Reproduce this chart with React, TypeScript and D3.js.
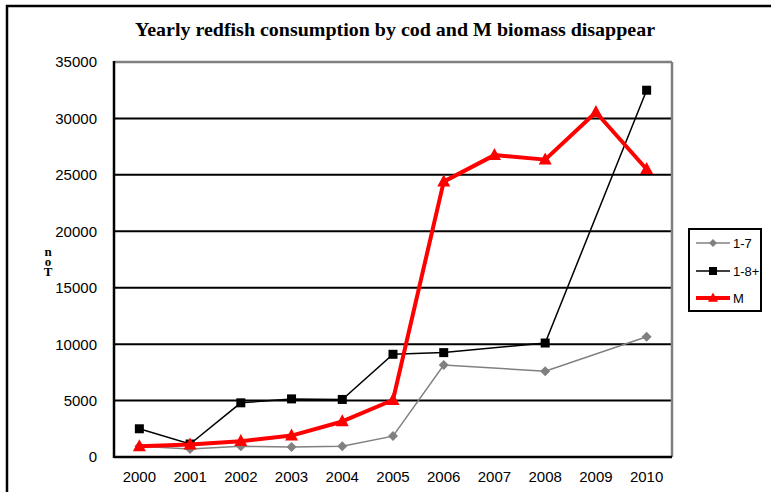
import React from "react";
import * as d3 from "d3";

// Years on the category axis
const years = ["2000", "2001", "2002", "2003", "2004", "2005", "2006", "2007", "2008", "2009", "2010"];

// Consumption series (tons); null = no estimate that year
const age1to7: (number | null)[] = [950, 700, 950, 880, 950, 1850, 8150, null, 7600, null, 10650];
const age1to8plus: (number | null)[] = [2500, 1150, 4800, 5150, 5100, 9100, 9250, null, 10100, null, 32500];
const mBiomass: (number | null)[] = [950, 1100, 1400, 1900, 3150, 5050, 24400, 26750, 26350, 30550, 25500];

const yTicks = [0, 5000, 10000, 15000, 20000, 25000, 30000, 35000];
const legendLabels = ["1-7", "1-8+", "M"];

const W = 771;
const H = 492;
const plot = { left: 114, right: 672, top: 62, bottom: 457 };

export default function App() {
  const x = d3.scaleBand<string>().domain(years).range([plot.left, plot.right]);
  const cx = (y: string) => (x(y) as number) + x.bandwidth() / 2;
  const y = d3.scaleLinear().domain([0, 35000]).range([plot.bottom, plot.top]);

  const lineFor = (vals: (number | null)[]) => {
    const pts = years
      .map((yr, i) => ({ yr, v: vals[i] }))
      .filter((d) => d.v !== null) as { yr: string; v: number }[];
    return {
      pts,
      path: d3
        .line<{ yr: string; v: number }>()
        .x((d) => cx(d.yr))
        .y((d) => y(d.v))(pts) as string,
    };
  };

  const s17 = lineFor(age1to7);
  const s18 = lineFor(age1to8plus);
  const sM = lineFor(mBiomass);

  const diamond = (px: number, py: number, r = 5) =>
    `M${px},${py - r}L${px + r},${py}L${px},${py + r}L${px - r},${py}Z`;
  const tri = (px: number, py: number, r = 6.5) =>
    `M${px},${py - r * 1.1}L${px + r},${py + r * 0.75}L${px - r},${py + r * 0.75}Z`;

  const sans = "'Liberation Sans', Arial, sans-serif";
  const serif = "'Liberation Serif', 'Times New Roman', serif";

  const legendX = 689;
  const legendY = 229;
  const rowY = [243, 271, 298];

  return (
    <svg width={W} height={H} style={{ position: "absolute", left: 0, top: 0, background: "#fff" }}>
      {/* outer chart frame */}
      <rect x={7} y={6} width={W + 20} height={H + 20} fill="none" stroke="#000" strokeWidth={2.5} />

      <text
        x={135}
        y={36}
        textLength={520}
        lengthAdjust="spacingAndGlyphs"
        fontFamily={serif}
        fontWeight="bold"
        fontSize={19}
      >
        Yearly redfish consumption by cod and M biomass disappear
      </text>

      {/* gridlines */}
      {yTicks
        .filter((t) => t > 0 && t < 35000)
        .map((t) => (
          <line key={t} x1={plot.left} x2={plot.right} y1={y(t)} y2={y(t)} stroke="#000" strokeWidth={2} />
        ))}

      {/* plot area border: gray top/right, black axes */}
      <line x1={plot.left} x2={plot.right} y1={plot.top} y2={plot.top} stroke="#808080" strokeWidth={2.5} />
      <line x1={plot.right} x2={plot.right} y1={plot.top} y2={plot.bottom} stroke="#808080" strokeWidth={2.5} />
      <line x1={plot.left} x2={plot.left} y1={plot.top - 1} y2={plot.bottom + 1} stroke="#000" strokeWidth={2.5} />
      <line x1={plot.left} x2={plot.right} y1={plot.bottom} y2={plot.bottom} stroke="#000" strokeWidth={2.5} />

      {/* y tick labels */}
      {yTicks.map((t) => (
        <text key={t} x={97} y={y(t)} dy="0.36em" textAnchor="end" fontFamily={sans} fontSize={15}>
          {t}
        </text>
      ))}

      {/* x tick labels */}
      {years.map((yr) => (
        <text key={yr} x={cx(yr)} y={482} textAnchor="middle" fontFamily={sans} fontSize={15}>
          {yr}
        </text>
      ))}

      {/* y axis title, upright letters stacked vertically */}
      <text
        x={48}
        y={244}
        fontFamily={serif}
        fontWeight="bold"
        fontSize={13}
        letterSpacing={-5}
        style={{ writingMode: "vertical-rl", textOrientation: "upright" } as React.CSSProperties}
      >
        noT
      </text>

      {/* 1-7 */}
      <path d={s17.path} fill="none" stroke="#808080" strokeWidth={1.5} />
      {s17.pts.map((d) => (
        <path key={d.yr} d={diamond(cx(d.yr), y(d.v))} fill="#808080" />
      ))}

      {/* 1-8+ */}
      <path d={s18.path} fill="none" stroke="#000" strokeWidth={1.5} />
      {s18.pts.map((d) => (
        <rect key={d.yr} x={cx(d.yr) - 4.5} y={y(d.v) - 4.5} width={9} height={9} fill="#000" />
      ))}

      {/* M */}
      <path d={sM.path} fill="none" stroke="#ff0000" strokeWidth={4} strokeLinejoin="round" />
      {sM.pts.map((d) => (
        <path key={d.yr} d={tri(cx(d.yr), y(d.v))} fill="#ff0000" />
      ))}

      {/* legend */}
      <rect x={legendX} y={legendY} width={72} height={82} fill="#fff" stroke="#000" strokeWidth={2} />
      <line x1={696} x2={730} y1={rowY[0]} y2={rowY[0]} stroke="#808080" strokeWidth={1.5} />
      <path d={diamond(713, rowY[0], 4)} fill="#808080" />
      <line x1={696} x2={730} y1={rowY[1]} y2={rowY[1]} stroke="#000" strokeWidth={1.5} />
      <rect x={709} y={rowY[1] - 4} width={8} height={8} fill="#000" />
      <line x1={696} x2={730} y1={rowY[2]} y2={rowY[2]} stroke="#ff0000" strokeWidth={4} />
      <path d={tri(713, rowY[2], 5)} fill="#ff0000" />
      {legendLabels.map((l, i) => (
        <text key={l} x={733} y={rowY[i]} dy="0.36em" fontFamily={sans} fontSize={13}>
          {l}
        </text>
      ))}
    </svg>
  );
}
